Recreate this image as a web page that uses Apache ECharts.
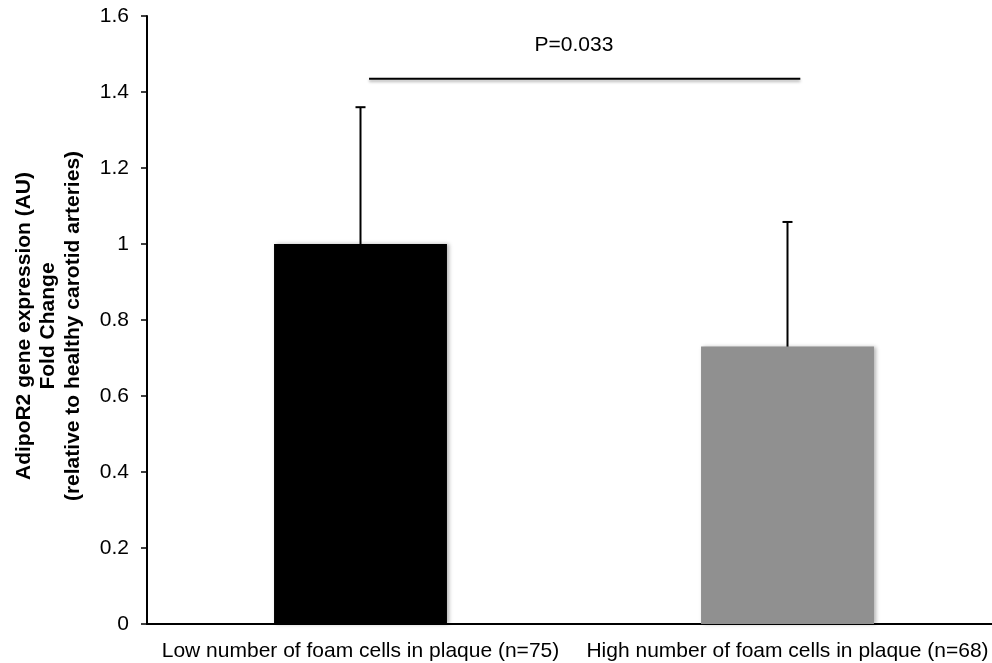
<!DOCTYPE html>
<html>
<head>
<meta charset="utf-8">
<script src="https://cdn.jsdelivr.net/npm/echarts@6/dist/echarts.min.js"></script>
<style>
  html, body { margin: 0; padding: 0; background: #fff; }
  #chart { width: 992px; height: 663px; }
</style>
</head>
<body>
<div id="chart"></div>
<script>
// data
const categories = ['Low number of foam cells in plaque (n=75)', 'High number of foam cells in plaque (n=68)']
const meanValues = [1.0, 0.73]
const errorTops = [1.36, 1.058] // upper end of SD whisker
const barColors = ['#000000', '#909090']

// significance bracket between the two groups
const pText = 'P=0.033'
const bracketEnds = [0.02, 1.03] // in category units (0 = first bar, 1 = second)
const bracketLevel = 1.435
const pTextAt = [0.5, 1.524]

const font = 'Liberation Sans, Arial, Helvetica, sans-serif'

const chart = echarts.init(document.getElementById('chart'))

const option = {
  animation: false,
  grid: { left: 147, right: -9, top: 16, bottom: 39, outerBoundsMode: 'none', containLabel: false },
  xAxis: [
    {
      type: 'category',
      data: categories,
      axisLine: { onZero: false, lineStyle: { color: '#000', width: 2 } },
      axisTick: { length: 6, lineStyle: { color: '#000', width: 1.5 } },
      axisLabel: { color: '#000', fontSize: 21, fontFamily: font, margin: 17, interval: 0, hideOverlap: false },
      splitLine: { show: false }
    },
    { type: 'value', min: -0.5, max: 1.5, show: false } // helper axis for the bracket
  ],
  yAxis: {
    type: 'value',
    min: 0,
    max: 1.6,
    interval: 0.2,
    name: 'AdipoR2 gene expression (AU)\nFold Change\n(relative to healthy carotid arteries)',
    nameLocation: 'middle',
    nameRotate: 90,
    nameGap: 62,
    nameTextStyle: {
      color: '#000',
      fontWeight: 'bold',
      fontSize: 21,
      lineHeight: 24.5,
      fontFamily: font,
      padding: [0, 12, 0, 0]
    },
    axisLine: { show: true, onZero: false, lineStyle: { color: '#000', width: 2 } },
    axisTick: { show: true, length: 6, lineStyle: { color: '#000', width: 1.5 } },
    axisLabel: {
      color: '#000',
      fontSize: 21,
      fontFamily: font,
      margin: 18,
      formatter: v => String(+v.toFixed(1))
    },
    splitLine: { show: false }
  },
  series: [
    {
      type: 'bar',
      barWidth: '40.5%',
      data: meanValues.map((v, i) => ({ value: v, itemStyle: { color: barColors[i] } })),
      itemStyle: {
        shadowBlur: 4,
        shadowOffsetX: 2,
        shadowColor: 'rgba(0,0,0,0.3)'
      }
    },
    { // error bars (upper only)
      type: 'custom',
      z: 3,
      data: meanValues.map((v, i) => [i, v, errorTops[i]]),
      encode: { x: 0, y: [1, 2] },
      renderItem: (params, api) => {
        const base = api.coord([api.value(0), api.value(1)])
        const top = api.coord([api.value(0), api.value(2)])
        return {
          type: 'group',
          children: [
            { type: 'line', shape: { x1: base[0], y1: base[1], x2: top[0], y2: top[1] }, style: { stroke: '#000', lineWidth: 2 } },
            { type: 'line', shape: { x1: top[0] - 5, y1: top[1], x2: top[0] + 5, y2: top[1] }, style: { stroke: '#000', lineWidth: 2 } }
          ]
        }
      }
    },
    { // significance bracket + p value
      type: 'custom',
      xAxisIndex: 1,
      z: 3,
      data: [[bracketEnds[0], bracketEnds[1], bracketLevel, pTextAt[0], pTextAt[1]]],
      encode: { x: [0, 1, 3], y: [2, 4] },
      renderItem: (params, api) => {
        const a = api.coord([api.value(0), api.value(2)])
        const b = api.coord([api.value(1), api.value(2)])
        const t = api.coord([api.value(3), api.value(4)])
        return {
          type: 'group',
          children: [
            {
              type: 'line',
              shape: { x1: a[0], y1: a[1], x2: b[0], y2: b[1] },
              style: { stroke: '#000', lineWidth: 2, shadowBlur: 3, shadowOffsetY: 2, shadowColor: 'rgba(0,0,0,0.35)' }
            },
            {
              type: 'text',
              x: t[0],
              y: t[1],
              style: { text: pText, fill: '#000', fontSize: 21, fontFamily: font, align: 'center', verticalAlign: 'middle' }
            }
          ]
        }
      }
    }
  ]
}

chart.setOption(option)
</script>
</body>
</html>
